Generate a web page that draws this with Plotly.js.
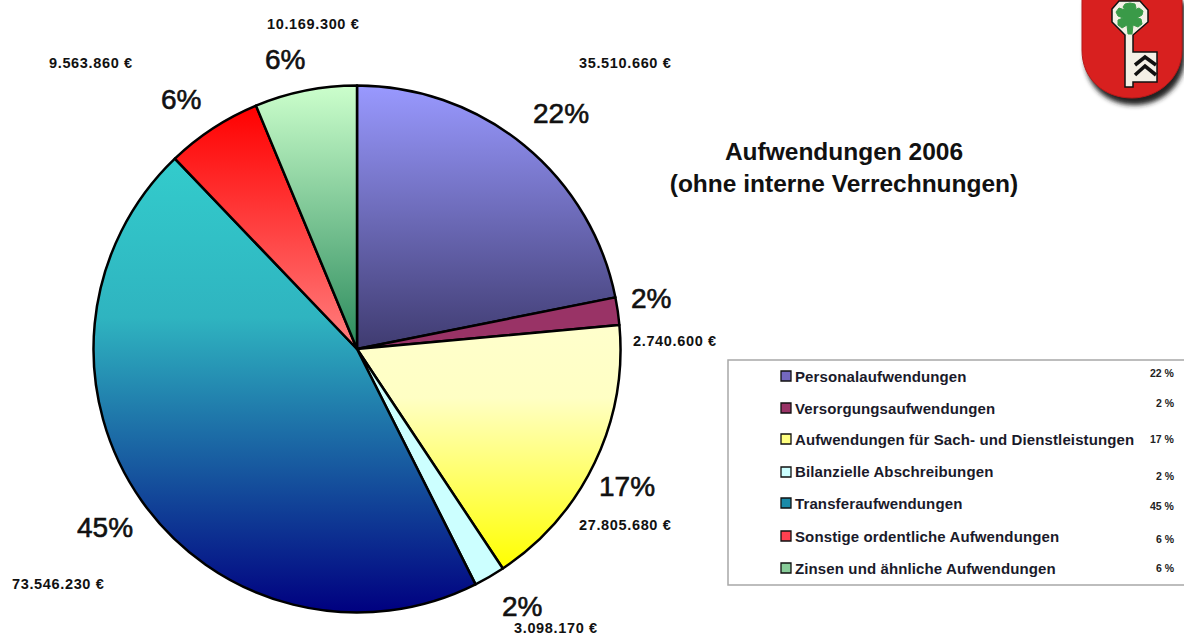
<!DOCTYPE html>
<html>
<head>
<meta charset="utf-8">
<script src="https://cdn.plot.ly/plotly-3.0.1.min.js"></script>
<style>
html,body{margin:0;padding:0;background:#fff;overflow:hidden}
text[style*="font-size: 28px"]{stroke:#111;stroke-width:.6px}
text[style*="font-size: 15px"]{letter-spacing:.12px}
text[style*="font-size: 14.5px"]{letter-spacing:.65px}
</style>
</head>
<body>
<div id="chart" style="width:1184px;height:636px"></div>
<script>
// ---- data ----
const categories = ["Personalaufwendungen","Versorgungsaufwendungen","Aufwendungen für Sach- und Dienstleistungen","Bilanzielle Abschreibungen","Transferaufwendungen","Sonstige ordentliche Aufwendungen","Zinsen und ähnliche Aufwendungen"];
const amounts = [35510660,2740600,27805680,3098170,73546230,9563860,10169300];
const amountLabels = ["35.510.660 €","2.740.600 €","27.805.680 €","3.098.170 €","73.546.230 €","9.563.860 €","10.169.300 €"];
const percentLabels = ["22%","2%","17%","2%","45%","6%","6%"];
const legendPercents = ["22 %","2 %","17 %","2 %","45 %","6 %","6 %"];
const titleText = "Aufwendungen 2006<br>(ohne interne Verrechnungen)";

// ---- styles ----
const sliceStops = [
  [[0,"#9999ff"],[1,"#3f3b70"]],
  [[0,"#993366"],[1,"#993366"]],
  [[0,"#ffffcc"],[0.3,"#ffffc4"],[1,"#ffff00"]],
  [[0,"#ccffff"],[1,"#ccffff"]],
  [[0,"#33cccc"],[0.35,"#2fb4c0"],[1,"#000080"]],
  [[0,"#ff0000"],[1,"#ff8080"]],
  [[0,"#ccffcc"],[1,"#2a8a5c"]]
];
const swatchColors = ["#7468c0","#993366","#ffff80","#ccffff","#1a8aa8","#ff4050","#88cc99"];

// ---- label placement (px in the 1184x636 page) ----
const W = 1184, H = 636;
const fx = p => p / W, fy = p => 1 - p / H;
const percentPos = [[561,114],[651,298],[627,486],[522,606],[105,527],[181,99],[285,59]];
const amountPos = [[625,63],[675,341],[625,525],[556,628],[58,584],[91,63],[313,24]];
const legendRowY = [376,408,439,472,503,536,568];
const legendPctY = [373,403,439,476,506,539,568];

const FONT = "Liberation Sans, Arial, sans-serif";
const ann = [];
percentLabels.forEach((t,i)=>ann.push({text:t,x:fx(percentPos[i][0]),y:fy(percentPos[i][1]),xref:"paper",yref:"paper",xanchor:"center",yanchor:"middle",showarrow:false,font:{family:FONT,size:28,color:"#111"}}));
amountLabels.forEach((t,i)=>ann.push({text:"<b>"+t+"</b>",x:fx(amountPos[i][0]),y:fy(amountPos[i][1]),xref:"paper",yref:"paper",xanchor:"center",yanchor:"middle",showarrow:false,font:{family:FONT,size:14.5,color:"#111"}}));
categories.forEach((t,i)=>ann.push({text:"<b>"+t+"</b>",x:fx(793),y:fy(legendRowY[i]),xref:"paper",yref:"paper",xanchor:"left",yanchor:"middle",showarrow:false,font:{family:FONT,size:15,color:"#1a1a2a"}}));
legendPercents.forEach((t,i)=>ann.push({text:"<b>"+t+"</b>",x:fx(1177),y:fy(legendPctY[i]),xref:"paper",yref:"paper",xanchor:"right",yanchor:"middle",showarrow:false,font:{family:FONT,size:10.5,color:"#222"}}));

const shapes = [{type:"rect",xref:"paper",yref:"paper",x0:fx(728),x1:fx(1190),y0:fy(360),y1:fy(585),line:{color:"#a8a8a8",width:1.5},fillcolor:"#fff",layer:"below"}];
swatchColors.forEach((c,i)=>shapes.push({type:"rect",xref:"paper",yref:"paper",x0:fx(781),x1:fx(791),y0:fy(legendRowY[i]-5),y1:fy(legendRowY[i]+5),line:{color:"#111",width:1.3},fillcolor:c}));

const logoSvg = `<svg xmlns="http://www.w3.org/2000/svg" width="124" height="120" viewBox="0 0 124 120">
<defs><filter id="b" x="-20%" y="-20%" width="140%" height="140%"><feGaussianBlur stdDeviation="2.8"/></filter></defs>
<path d="M22,-5 L22,50 C22,80 45,98 72,98 C98,98 122,78 122,50 L122,-5 Z" transform="translate(3,7)" fill="#222" filter="url(#b)"/>
<path d="M22,-5 L22,50 C22,80 45,98 72,98 C98,98 122,78 122,50 L122,-5 Z" fill="#d8201f" stroke="#b81818" stroke-width="1"/>
<path d="M52,9 L59,1 L80,1 L88,10 L88,22 L73,35 L73,52 L97,52 L97,82 L73,82 L73,87 L65,87 L65,35 L52,22 Z" fill="#f4f0e6" stroke="#111" stroke-width="1.5"/>
<path d="M70,3 L75,4 L76,8 L74,10 L79,8 L83,11 L82,15 L77,18 L81,19 L82,24 L78,27 L73,25 L72,34 L68,34 L67,25 L62,28 L58,25 L58,20 L63,18 L58,16 L56,12 L59,8 L65,10 L63,7 L65,4 Z" fill="#3a9a48" stroke="#3a9a48" stroke-width="1" stroke-linejoin="round"/>
<path d="M75,65 L85,57 L96,65 M75,75 L85,66 L96,75" fill="none" stroke="#111" stroke-width="3.6"/>
</svg>`;

const data = [{
  type:"pie",
  labels:categories,
  values:amounts,
  sort:false,
  direction:"clockwise",
  rotation:0,
  textinfo:"none",
  hoverinfo:"label+value+percent",
  domain:{x:[(357-263.5)/W,(357+263.5)/W],y:[1-(349+263.5)/H,1-(349-263.5)/H]},
  marker:{colors:sliceStops.map(s=>s[0][1]),line:{color:"#000",width:2.5}},
  showlegend:false
}];

const layout = {
  width:W,height:H,
  margin:{l:0,r:0,t:0,b:0,pad:0},
  paper_bgcolor:"#fff",
  showlegend:false,
  title:{text:"<b>"+titleText.replace("<br>","</b><br><b>")+"</b>",x:fx(844),xanchor:"center",xref:"paper",y:fy(160),yanchor:"middle",yref:"paper",font:{family:FONT,size:24.5,color:"#111"}},
  annotations:ann,
  shapes:shapes,
  images:[{source:"data:image/svg+xml;charset=utf-8,"+encodeURIComponent(logoSvg),xref:"paper",yref:"paper",x:fx(1060),y:1,sizex:124/W,sizey:120/H,xanchor:"left",yanchor:"top",sizing:"stretch",layer:"above"}]
};

Plotly.newPlot("chart",data,layout,{displayModeBar:false,staticPlot:true}).then(gd=>{
  const NS="http://www.w3.org/2000/svg";
  const defs=gd.querySelector(".main-svg defs");
  sliceStops.forEach((st,i)=>{
    const g=document.createElementNS(NS,"linearGradient");
    g.setAttribute("id","sliceGrad"+i);g.setAttribute("x1","0");g.setAttribute("y1","0");g.setAttribute("x2","0");g.setAttribute("y2","1");
    st.forEach(([o,c])=>{const s=document.createElementNS(NS,"stop");s.setAttribute("offset",o);s.setAttribute("stop-color",c);g.appendChild(s);});
    defs.appendChild(g);
  });
  gd.querySelectorAll(".slice path.surface").forEach((p,i)=>{p.style.fill="url(#sliceGrad"+i+")";});
});
</script>
</body>
</html>
